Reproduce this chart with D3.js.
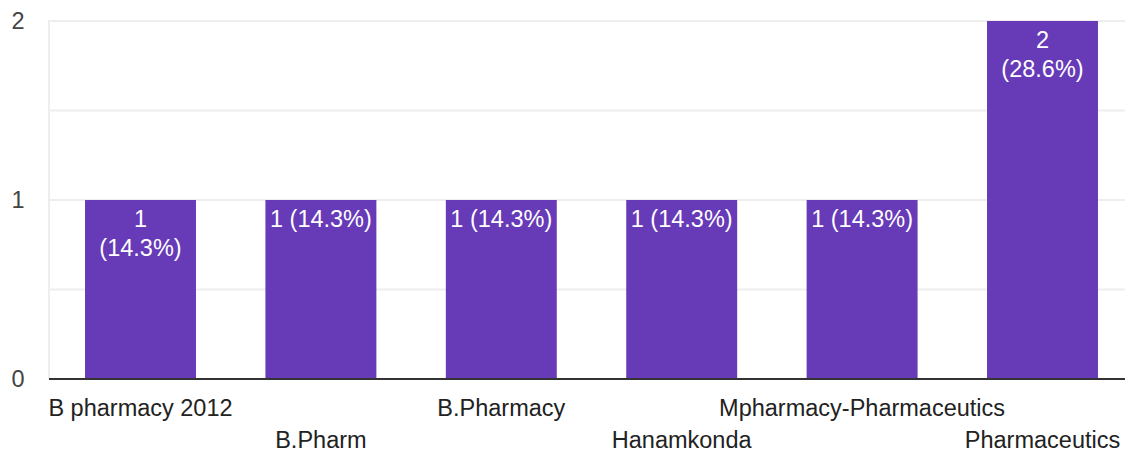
<!DOCTYPE html>
<html>
<head>
<meta charset="utf-8">
<script src="https://cdn.jsdelivr.net/npm/d3@7"></script>
<style>
  html, body { margin: 0; padding: 0; background: #fff; }
  svg text { font-family: Arial, "Liberation Sans", sans-serif; }
</style>
</head>
<body>
<div id="chart"></div>
<script>
// Data
const categories = ["B pharmacy 2012", "B.Pharm", "B.Pharmacy", "Hanamkonda", "Mpharmacy-Pharmaceutics", "Pharmaceutics"];
const counts     = [1, 1, 1, 1, 1, 2];
const percents   = ["14.3%", "14.3%", "14.3%", "14.3%", "14.3%", "28.6%"];
const wrapLabel  = [true, false, false, false, false, true];
const yTicks     = [0, 1, 2];
const gridTicks  = [0.5, 1, 1.5, 2];

const W = 1125, H = 452;
const margin = { top: 21, right: 0, bottom: 73, left: 49 };
const iH = H - margin.top - margin.bottom;
const FS = 23.5;

const svg = d3.select("#chart").append("svg")
  .attr("width", W).attr("height", H);

const x = d3.scaleBand()
  .domain(categories)
  .range([50.3, 1132.7])
  .paddingInner(0.385)
  .paddingOuter(0.1925);

const y = d3.scaleLinear()
  .domain([0, 2])
  .range([margin.top + iH, margin.top]);

// Grid lines
svg.append("g")
  .selectAll("line")
  .data(gridTicks)
  .join("line")
    .attr("x1", margin.left).attr("x2", W)
    .attr("y1", d => y(d)).attr("y2", d => y(d))
    .attr("stroke", "#eeeeee").attr("stroke-width", 2);

// Left light vertical line
svg.append("line")
  .attr("x1", margin.left).attr("x2", margin.left)
  .attr("y1", y(2) - 1).attr("y2", y(0))
  .attr("stroke", "#eeeeee").attr("stroke-width", 2);

// Y axis labels
svg.append("g")
  .selectAll("text")
  .data(yTicks)
  .join("text")
    .attr("x", 18).attr("y", d => y(d))
    .attr("dy", "0.35em")
    .attr("text-anchor", "middle")
    .attr("font-size", FS).attr("fill", "#444")
    .text(d => d);

// Bars
svg.append("g")
  .selectAll("rect")
  .data(categories)
  .join("rect")
    .attr("x", d => x(d))
    .attr("y", (d, i) => y(counts[i]))
    .attr("width", x.bandwidth())
    .attr("height", (d, i) => y(0) - y(counts[i]))
    .attr("fill", "#673ab7");

// Baseline
svg.append("line")
  .attr("x1", margin.left).attr("x2", W)
  .attr("y1", y(0)).attr("y2", y(0))
  .attr("stroke", "#333").attr("stroke-width", 2);

// Value labels inside bars
const lbl = svg.append("g")
  .selectAll("text")
  .data(categories)
  .join("text")
    .attr("x", d => x(d) + x.bandwidth() / 2)
    .attr("y", (d, i) => y(counts[i]) + 19)
    .attr("text-anchor", "middle")
    .attr("font-size", FS).attr("fill", "#fff");

lbl.each(function(d, i) {
  const t = d3.select(this);
  const cx = x(d) + x.bandwidth() / 2;
  if (wrapLabel[i]) {
    t.append("tspan").attr("x", cx).attr("dy", "0.35em").text(counts[i]);
    t.append("tspan").attr("x", cx).attr("dy", 29).text(`(${percents[i]})`);
  } else {
    t.append("tspan").attr("x", cx).attr("dy", "0.35em").text(`${counts[i]} (${percents[i]})`);
  }
});

// X axis labels, staggered over two rows
svg.append("g")
  .selectAll("text")
  .data(categories)
  .join("text")
    .attr("x", d => x(d) + x.bandwidth() / 2)
    .attr("y", (d, i) => i % 2 === 0 ? 408 : 440)
    .attr("dy", "0.35em")
    .attr("text-anchor", "middle")
    .attr("font-size", FS).attr("fill", "#222")
    .text(d => d);
</script>
</body>
</html>
